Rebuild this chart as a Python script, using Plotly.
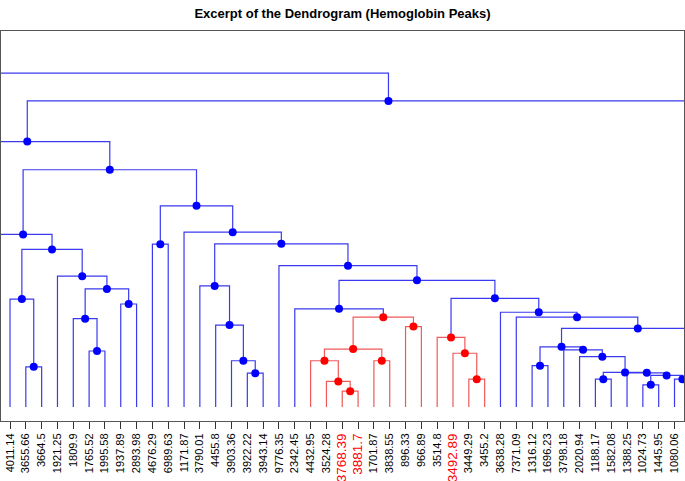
import plotly.graph_objects as go

# ---------------- data ----------------
leaf_labels = ["4011.14", "3655.66", "3664.5", "1921.25", "1809.9", "1765.52", "1995.58",
               "1937.89", "2893.98", "4676.29", "6989.63", "1171.87", "3790.01", "4455.8",
               "3903.36", "3922.22", "3943.14", "9776.35", "2342.45", "4432.95", "3524.28",
               "3768.39", "3881.7", "1701.87", "3838.55", "896.33", "966.89", "3514.8",
               "3492.89", "3449.29", "3455.2", "3638.28", "7371.09", "1316.12", "1696.23",
               "3798.18", "2020.94", "1188.17", "1582.08", "1388.25", "1024.73", "1445.95",
               "1080.06"]
highlighted_labels = ["3768.39", "3881.7", "3492.89"]

# merges: (node, left child, right child, height, cluster)
# integers = leaf positions (1..43 visible; others lie outside the excerpt)
merges = [
    ("Z", 22, 23, 4.2, "red"), ("Y", 21, "Z", 6.8, "red"), ("X", 20, "Y", 12.3, "red"),
    ("AA", 24, 25, 12.3, "red"), ("W", "X", "AA", 15.4, "red"), ("AB", 26, 27, 21.4, "red"),
    ("V", "W", "AB", 23.9, "red"), ("U", 19, "V", 26.1, "blue"),
    ("AF", 30, 31, 7.4, "red"), ("AE", 29, "AF", 14.3, "red"), ("AD", 28, "AE", 18.5, "red"),
    ("AQ", 41, 42, 5.9, "blue"), ("AS", 43, 44, 7.4, "blue"), ("AR", "AQ", "AS", 8.4, "blue"),
    ("AP", 40, "AR", 9.1, "blue"), ("AO", 38, 39, 7.4, "blue"), ("AN", "AO", "AP", 9.2, "blue"),
    ("AM", 37, "AN", 13.4, "blue"), ("AL", 36, "AM", 15.2, "blue"), ("AK", 34, 35, 11.0, "blue"),
    ("AJ", "AK", "AL", 16.0, "blue"), ("HR1", 45, 46, 12.0, "blue"), ("AI", "AJ", "HR1", 20.9, "blue"),
    ("AH", 33, "AI", 23.9, "blue"), ("AG", 32, "AH", 25.2, "blue"), ("AC", "AD", "AG", 28.9, "blue"),
    ("T", "U", "AC", 33.7, "blue"), ("S", 18, "T", 37.6, "blue"),
    ("R", 16, 17, 9.0, "blue"), ("Q", 15, "R", 12.3, "blue"), ("P", 14, "Q", 21.8, "blue"),
    ("O", 13, "P", 32.2, "blue"), ("N", "O", "S", 43.4, "blue"), ("M", 12, "N", 46.5, "blue"),
    ("L", 10, 11, 43.3, "blue"), ("K", "L", "M", 53.5, "blue"),
    ("A", 2, 3, 10.7, "blue"), ("B", 1, "A", 28.7, "blue"), ("F", 6, 7, 14.9, "blue"),
    ("E", 5, "F", 23.5, "blue"), ("G", 8, 9, 27.4, "blue"), ("D", "E", "G", 31.4, "blue"),
    ("C", 4, "D", 34.8, "blue"), ("H", "B", "C", 41.9, "blue"), ("I", 0, "H", 45.9, "blue"),
    ("J", "I", "K", 63.1, "blue"),
    ("HL1", -2, -1, 10.0, "blue"), ("HL2", -3, "HL1", 20.0, "blue"), ("HL3", -4, "HL2", 35.0, "blue"),
    ("NN", "HL3", "J", 70.6, "blue"),
    ("HR2", 48, 49, 15.0, "blue"), ("HR3", 47, "HR2", 40.0, "blue"),
    ("TOP1", "NN", "HR3", 81.4, "blue"), ("TOP0", -28, "TOP1", 88.8, "blue"),
]

line_colors = {"blue": "#3a3af0", "red": "#f05a5a"}
dot_colors = {"blue": "#0000ff", "red": "#ff0000"}

# ---------------- layout of the tree ----------------
pos = {}
hgt = {}


def xy(ref):
    if isinstance(ref, int):
        return float(ref), 0.0
    return pos[ref], hgt[ref]


segs = {"blue": ([], []), "red": ([], [])}
dots = {"blue": ([], []), "red": ([], [])}
for name, left, right, h, col in merges:
    xl, yl = xy(left)
    xr, yr = xy(right)
    xm = (xl + xr) / 2
    pos[name] = xm
    hgt[name] = h
    sx, sy = segs[col]
    sx += [xl, xl, xr, xr, None]
    sy += [yl, h, h, yr, None]
    dots[col][0].append(xm)
    dots[col][1].append(h)

fig = go.Figure()
for col in ["blue", "red"]:
    fig.add_trace(go.Scatter(x=segs[col][0], y=segs[col][1], mode="lines",
                             line=dict(color=line_colors[col], width=1.2),
                             hoverinfo="skip", showlegend=False))
for col in ["blue", "red"]:
    fig.add_trace(go.Scatter(x=dots[col][0], y=dots[col][1], mode="markers",
                             marker=dict(color=dot_colors[col], size=8, line=dict(width=0)),
                             showlegend=False))

ticktext = []
for lab in leaf_labels:
    if lab in highlighted_labels:
        ticktext.append('<span style="color:#ff0000;font-size:13.5px">' + lab + '</span>')
    else:
        ticktext.append(lab)

fig.update_layout(
    width=685, height=481,
    margin=dict(l=1, r=1, t=31, b=60, autoexpand=False),
    paper_bgcolor="white", plot_bgcolor="white",
    font=dict(family="Liberation Sans, Arial, sans-serif", color="#000000"),
    title=dict(text="<b>Excerpt of the Dendrogram (Hemoglobin Peaks)</b>",
               x=0.5, xanchor="center", y=1 - 13 / 481, yanchor="middle",
               font=dict(size=13, color="#000000")),
    xaxis=dict(range=[0.431, 43.60], tickmode="array", automargin=False,
               tickvals=list(range(1, len(leaf_labels) + 1)), ticktext=ticktext,
               tickangle=-90, tickfont=dict(size=11, color="#000000"),
               ticks="outside", ticklen=7, tickwidth=1, tickcolor="#333333",
               showgrid=False, zeroline=False, showline=True, linecolor="#555555",
               linewidth=1, mirror=True),
    yaxis=dict(range=[-3.72, 100.0], showticklabels=False, ticks="", showgrid=False,
               automargin=False,
               zeroline=False, showline=True, linecolor="#555555", linewidth=1, mirror=True),
)

fig.write_html("out.html", config={"displayModeBar": False},
               post_script="document.body.style.margin='0px';")
